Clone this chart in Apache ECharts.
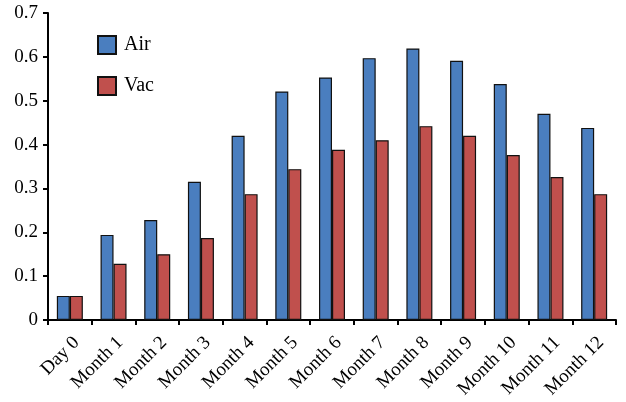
<!DOCTYPE html>
<html><head><meta charset="utf-8">
<script src="https://cdn.jsdelivr.net/npm/echarts@6/dist/echarts.min.js"></script>
<style>html,body{margin:0;padding:0;background:#fff}#c{width:626px;height:402px}</style>
</head><body><div id="c"></div>
<script>
const categories = ['Day 0','Month 1','Month 2','Month 3','Month 4','Month 5','Month 6','Month 7','Month 8','Month 9','Month 10','Month 11','Month 12'];
const airValues = [0.055,0.194,0.228,0.315,0.420,0.521,0.553,0.597,0.619,0.591,0.538,0.470,0.438];
const vacValues = [0.055,0.128,0.150,0.187,0.287,0.344,0.388,0.410,0.442,0.420,0.376,0.326,0.287];
const yTicks = [0,0.1,0.2,0.3,0.4,0.5,0.6,0.7];
const font = '"Liberation Serif", "DejaVu Serif", serif';
const chart = echarts.init(document.getElementById('c'));
chart.setOption({
  animation:false,
  grid:{left:48,right:10,top:13,bottom:82,containLabel:false},
  legend:{orient:'vertical',left:92,top:30,itemWidth:18,itemHeight:18,itemGap:21,
    textStyle:{fontFamily:font,fontSize:20,color:'#000',padding:[0,0,0,3]},
    data:[{name:'Air',icon:'rect'},{name:'Vac',icon:'rect'}]},
  xAxis:{type:'category',data:categories,
    axisLine:{lineStyle:{color:'#000',width:2}},
    axisTick:{show:true,length:5,lineStyle:{color:'#000',width:2}},
    axisLabel:{rotate:45,fontFamily:font,fontSize:19,color:'#000',margin:13,interval:0,verticalAlign:'top'}},
  yAxis:{type:'value',min:0,max:0.7,interval:0.1,
    axisLine:{show:true,lineStyle:{color:'#000',width:2}},
    axisTick:{show:true,length:5,lineStyle:{color:'#000',width:2}},
    splitLine:{show:false},
    axisLabel:{fontFamily:font,fontSize:19,color:'#000',margin:10,
      formatter:v=>{const t=yTicks.find(x=>Math.abs(x-v)<1e-9);return t===0?'0':String(+v.toFixed(1));}}},
  series:[
    {name:'Air',type:'bar',data:airValues,barWidth:13,barGap:'0%',
      itemStyle:{color:'#4a7ebf',borderColor:'#111',borderWidth:1.2}},
    {name:'Vac',type:'bar',data:vacValues,barWidth:13,barGap:'0%',
      itemStyle:{color:'#c0504d',borderColor:'#111',borderWidth:1.2}}
  ]
});
</script></body></html>
